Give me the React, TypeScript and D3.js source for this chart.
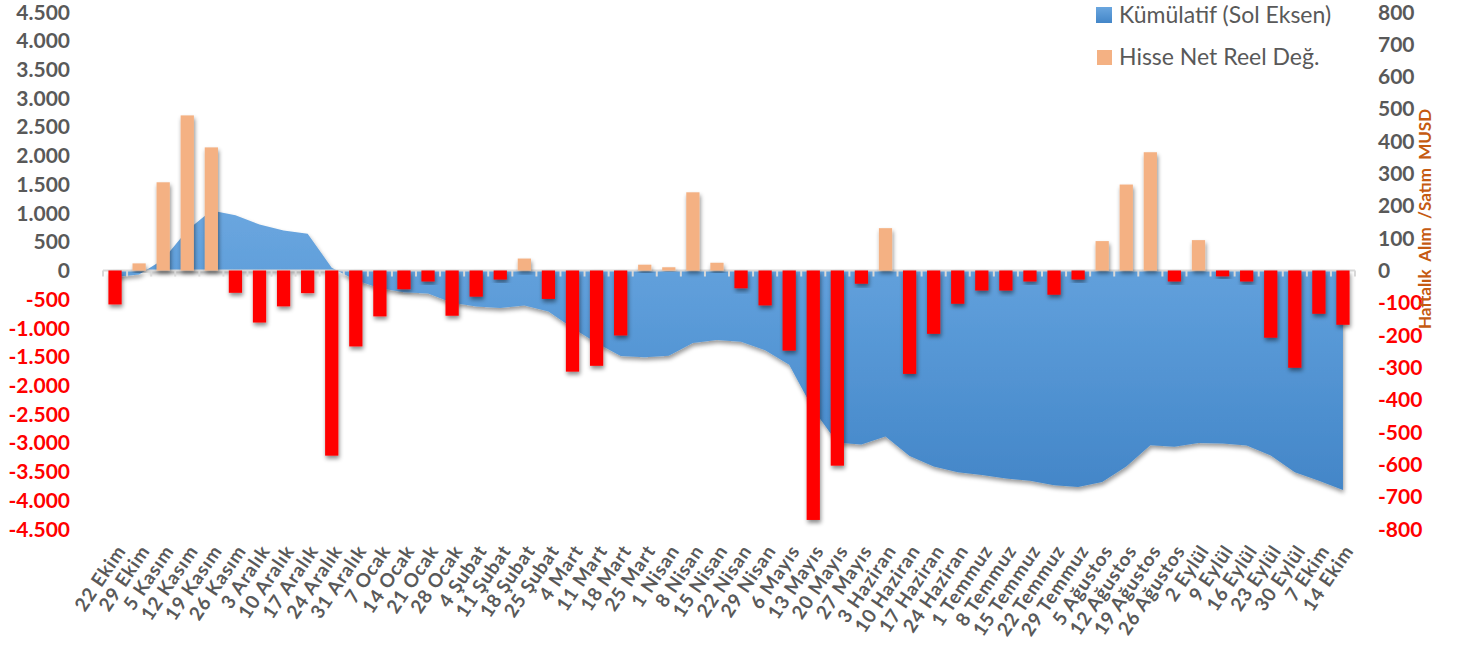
import * as d3 from "d3";

const categories = [
  "22 Ekim", "29 Ekim", "5 Kasım", "12 Kasım", "19 Kasım", "26 Kasım",
  "3 Aralık", "10 Aralık", "17 Aralık", "24 Aralık", "31 Aralık",
  "7 Ocak", "14 Ocak", "21 Ocak", "28 Ocak",
  "4 Şubat", "11 Şubat", "18 Şubat", "25 Şubat",
  "4 Mart", "11 Mart", "18 Mart", "25 Mart",
  "1 Nisan", "8 Nisan", "15 Nisan", "22 Nisan", "29 Nisan",
  "6 Mayıs", "13 Mayıs", "20 Mayıs", "27 Mayıs",
  "3 Haziran", "10 Haziran", "17 Haziran", "24 Haziran",
  "1 Temmuz", "8 Temmuz", "15 Temmuz", "22 Temmuz", "29 Temmuz",
  "5 Ağustos", "12 Ağustos", "19 Ağustos", "26 Ağustos",
  "2 Eylül", "9 Eylül", "16 Eylül", "23 Eylül", "30 Eylül",
  "7 Ekim", "14 Ekim",
];

// haftalık alım / satım, MUSD (sağ eksen)
const weekly = [
  -105, 22, 273, 480, 381, -69, -161, -111, -70, -573, -235,
  -142, -58, -34, -140, -81, -28, 37, -88, -313, -295, -201, 18,
  10, 242, 24, -55, -108, -248, -772, -604, -41, 131, -320, -196, -103,
  -62, -62, -34, -75, -28, 91, 266, 366, -34, 94, -18, -34, -208, -301,
  -134, -168,
];

// kümülatif (sol eksen)
const cumulative = [
  -115, -70, 190, 700, 1046, 960, 800, 697, 640, 50, -168,
  -310, -378, -401, -560, -628, -651, -610, -715, -1000, -1260, -1490, -1512,
  -1482, -1260, -1208, -1240, -1390, -1640, -2420, -3000, -3030, -2890, -3230, -3410, -3510,
  -3560, -3620, -3660, -3740, -3770, -3680, -3410, -3040, -3070, -3005, -3010, -3045, -3220, -3510,
  -3660, -3820,
];

const leftTicks = d3.range(-4500, 4501, 500);
const rightTicks = d3.range(-800, 801, 100);

const legendItems = ["Kümülatif (Sol Eksen)", "Hisse Net Reel Değ."];
const rightTitle = "Haftalık  Alım  /Satım  MUSD";

const W = 1458;
const H = 650;
const GRAY = "#595959";
const RED = "#FF0000";
const ORANGE = "#F4B183";
const FONT = "Lato, 'Open Sans', sans-serif";

const trFormat = d3.formatLocale({
  decimal: ",",
  thousands: ".",
  grouping: [3],
  currency: ["", ""],
  minus: "-",
}).format(",");

export default function App() {
  const x = d3
    .scaleBand<string>()
    .domain(categories)
    .range([103, 1355])
    .paddingInner(0.45)
    .paddingOuter(0.225);
  const yL = d3.scaleLinear().domain([-4500, 4500]).range([529, 12]);
  const yR = d3.scaleLinear().domain([-800, 800]).range([529, 12]);
  const cx = (c: string) => (x(c) ?? 0) + x.bandwidth() / 2;
  const zero = yL(0);

  const area = d3
    .area<number>()
    .x((_, i) => cx(categories[i]))
    .y0(zero)
    .y1((d) => yL(d));

  const step = x.step();
  const boundaries = d3.range(categories.length + 1).map((i) => 103 + i * step);

  return (
    <svg
      width={W}
      height={H}
      style={{ position: "absolute", left: 0, top: 0, background: "#fff" }}
    >
      <defs>
        <linearGradient id="areaGrad" gradientUnits="userSpaceOnUse" x1="0" y1={yL(1050)} x2="0" y2={yL(-3800)}>
          <stop offset="0" stopColor="#6aa6df" />
          <stop offset="0.35" stopColor="#5c9cd9" />
          <stop offset="1" stopColor="#4386c8" />
        </linearGradient>
        <linearGradient id="legGrad" x1="0" y1="0" x2="0" y2="1">
          <stop offset="0" stopColor="#6aa6df" />
          <stop offset="1" stopColor="#4386c8" />
        </linearGradient>
        <filter id="shadow" x="-10%" y="-10%" width="120%" height="130%">
          <feDropShadow dx="1" dy="3" stdDeviation="2" floodColor="#000" floodOpacity="0.4" />
        </filter>
        <filter id="barShadow" x="-50%" y="-20%" width="200%" height="150%">
          <feDropShadow dx="1" dy="3" stdDeviation="2" floodColor="#000" floodOpacity="0.45" />
        </filter>
      </defs>

      {/* Kümülatif alan */}
      <path d={area(cumulative) ?? ""} fill="url(#areaGrad)" filter="url(#shadow)" />

      {/* sıfır ekseni ve tikler */}
      <line x1={103} x2={1355} y1={zero} y2={zero} stroke="#d9d9d9" strokeWidth={2} />
      {boundaries.map((b, i) => (
        <line key={i} x1={b} x2={b} y1={zero} y2={zero + 6} stroke="#d9d9d9" strokeWidth={2} />
      ))}

      {/* Haftalık barlar */}
      {weekly.map((v, i) => (
        <rect
          key={i}
          x={x(categories[i])}
          width={x.bandwidth()}
          y={Math.min(yR(v), yR(0))}
          height={Math.abs(yR(v) - yR(0))}
          fill={v >= 0 ? ORANGE : RED}
          filter="url(#barShadow)"
        />
      ))}

      {/* Sol eksen */}
      {leftTicks.map((t) => (
        <text
          key={t}
          x={70}
          y={yL(t)}
          dy="0.36em"
          textAnchor="end"
          fontFamily={FONT}
          fontWeight={700}
          fontSize={21}
          fill={t < 0 ? RED : GRAY}
        >
          {trFormat(t)}
        </text>
      ))}

      {/* Sağ eksen */}
      {rightTicks.map((t) => (
        <text
          key={t}
          x={1378}
          y={yR(t)}
          dy="0.36em"
          textAnchor="start"
          fontFamily={FONT}
          fontWeight={700}
          fontSize={21}
          fill={t < 0 ? RED : GRAY}
        >
          {t}
        </text>
      ))}
      <text
        transform={`translate(1431, 219) rotate(-90)`}
        textAnchor="middle"
        fontFamily={FONT}
        fontWeight={700}
        fontSize={17}
        fill="#C55A11"
        style={{ whiteSpace: "pre" }}
      >
        {rightTitle}
      </text>

      {/* Kategori etiketleri */}
      {categories.map((c) => (
        <text
          key={c}
          transform={`translate(${cx(c) + 6}, 547) rotate(-56)`}
          textAnchor="end"
          dy="0.35em"
          fontFamily={FONT}
          fontWeight={700}
          fontSize={19}
          letterSpacing={0.9}
          fill={GRAY}
        >
          {c}
        </text>
      ))}

      {/* Lejant */}
      <rect x={1096} y={7} width={16} height={16} fill="url(#legGrad)" />
      <text x={1119} y={23} fontFamily={FONT} fontSize={23} fill={GRAY}>
        {legendItems[0]}
      </text>
      <rect x={1097} y={50} width={15} height={15} fill={ORANGE} />
      <text x={1119} y={65} fontFamily={FONT} fontSize={23} fill={GRAY}>
        {legendItems[1]}
      </text>
    </svg>
  );
}
